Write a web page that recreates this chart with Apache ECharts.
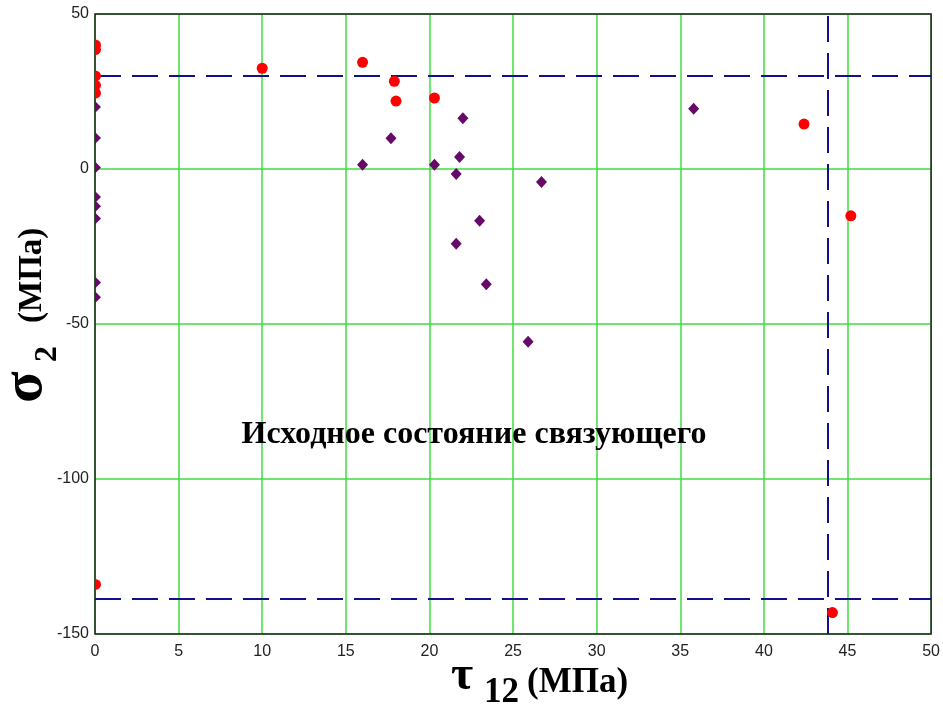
<!DOCTYPE html>
<html>
<head>
<meta charset="utf-8">
<script src="https://cdn.jsdelivr.net/npm/echarts@6/dist/echarts.min.js"></script>
<style>
html,body{margin:0;padding:0;background:#fff;}
#chart{width:943px;height:708px;}
</style>
</head>
<body>
<div id="chart"></div>
<script>
// Data (τ12, σ2 in MPa)
const redX = [0, 0, 0, 0, 0, 0, 10, 16.0, 17.9, 18.0, 20.3, 42.4, 45.2, 44.1];
const redY = [40, 38.5, 30, 27, 24.5, -134, 32.5, 34.4, 28.3, 21.9, 22.9, 14.5, -15.1, -143.1];
const purpleX = [0, 0, 0, 0, 0, 0, 0, 0, 0, 16.0, 17.7, 20.3, 21.8, 21.6, 22.0, 26.7, 23.0, 21.6, 23.4, 25.9, 35.8];
const purpleY = [30, 20, 10, 0.5, -9, -12, -16, -36.6, -41.4, 1.4, 9.9, 1.4, 3.9, -1.6, 16.4, -4.2, -16.7, -24.1, -37.2, -55.7, 19.4];
const limitY = [30, -138.7];
const limitX = [43.8];
const xTicks = {min: 0, max: 50, interval: 5};
const yTicks = {min: -150, max: 50, interval: 50};
const annotation = 'Исходное состояние связующего';

const chart = echarts.init(document.getElementById('chart'), null, {renderer: 'canvas'});
const zip = (a, b) => a.map((v, i) => [v, b[i]]);
const onAxis = pts => pts.filter(p => p[0] === xTicks.min);
const offAxis = pts => pts.filter(p => p[0] !== xTicks.min);
const purplePts = zip(purpleX, purpleY);
const redPts = zip(redX, redY);
const dashColor = '#10108a';
const purple = '#650a66';
const red = '#ff0000';
const serif = '"Liberation Serif", "DejaVu Serif", serif';
const labelFont = {color: '#222', fontSize: 16, fontFamily: '"Liberation Sans", Arial, sans-serif'};

chart.setOption({
  backgroundColor: '#fff',
  animation: false,
  grid: {left: 95, right: 11, top: 14, bottom: 74, show: true, z: 5, borderColor: '#222', borderWidth: 1.5, backgroundColor: 'transparent'},
  xAxis: {
    type: 'value', min: xTicks.min, max: xTicks.max, interval: xTicks.interval,
    axisLine: {show: false}, axisTick: {show: false},
    axisLabel: Object.assign({margin: 10}, labelFont),
    splitLine: {show: true, lineStyle: {color: '#3fdc3f', width: 1.5}}
  },
  yAxis: {
    type: 'value', min: yTicks.min, max: yTicks.max, interval: yTicks.interval,
    axisLine: {show: false}, axisTick: {show: false},
    axisLabel: Object.assign({margin: 6}, labelFont),
    splitLine: {show: true, lineStyle: {color: '#3fdc3f', width: 1.5}}
  },
  series: [
    {
      type: 'scatter', name: 'purple', data: offAxis(purplePts),
      symbol: 'diamond', symbolSize: [11, 12], itemStyle: {color: purple, opacity: 1},
      z: 6,
      markLine: {
        silent: true, symbol: 'none', label: {show: false},
        lineStyle: {color: dashColor, width: 2, type: [26, 11], opacity: 1},
        data: limitY.map(v => ({yAxis: v})).concat(limitX.map(v => ({xAxis: v})))
      }
    },
    {
      type: 'scatter', name: 'purple-edge', data: onAxis(purplePts),
      symbol: 'path://M0,0L1,1L0,2Z', symbolSize: [6, 12], symbolOffset: [3, 0],
      itemStyle: {color: purple, opacity: 1}, z: 6
    },
    {
      type: 'scatter', name: 'red', data: offAxis(redPts),
      symbol: 'circle', symbolSize: 11, itemStyle: {color: red, opacity: 1},
      z: 7
    },
    {
      type: 'scatter', name: 'red-edge', data: onAxis(redPts),
      symbol: 'path://M0,0A1,1 0 0 1 0,2Z', symbolSize: [6, 11], symbolOffset: [3, 0],
      itemStyle: {color: red, opacity: 1}, z: 7
    }
  ],
  graphic: [
    {
      type: 'text', x: 474, y: 435, z: 10,
      style: {text: annotation, font: 'bold 32px ' + serif, fill: '#000', align: 'center', verticalAlign: 'middle'}
    },
    {
      type: 'group', x: 451, y: 677, z: 10,
      children: [
        {type: 'text', style: {text: 'τ', x: 0, y: 0, font: 'bold 48px ' + serif, fill: '#000', verticalAlign: 'middle'}},
        {type: 'text', style: {text: '12', x: 33, y: 16, font: 'bold 35px ' + serif, fill: '#000', verticalAlign: 'middle'}},
        {type: 'text', style: {text: '(МПа)', x: 76, y: 6, font: 'bold 35px ' + serif, fill: '#000', verticalAlign: 'middle'}}
      ]
    },
    {
      type: 'group', x: 32, y: 403, rotation: Math.PI / 2, z: 10,
      children: [
        {type: 'text', style: {text: 'σ', x: 0, y: -6, font: 'bold 58px ' + serif, fill: '#000', verticalAlign: 'middle'}},
        {type: 'text', style: {text: '2', x: 41, y: 16, font: 'bold 32px ' + serif, fill: '#000', verticalAlign: 'middle'}},
        {type: 'text', style: {text: '(МПа)', x: 80, y: 0, font: 'bold 33px ' + serif, fill: '#000', verticalAlign: 'middle'}}
      ]
    }
  ]
});
</script>
</body>
</html>
